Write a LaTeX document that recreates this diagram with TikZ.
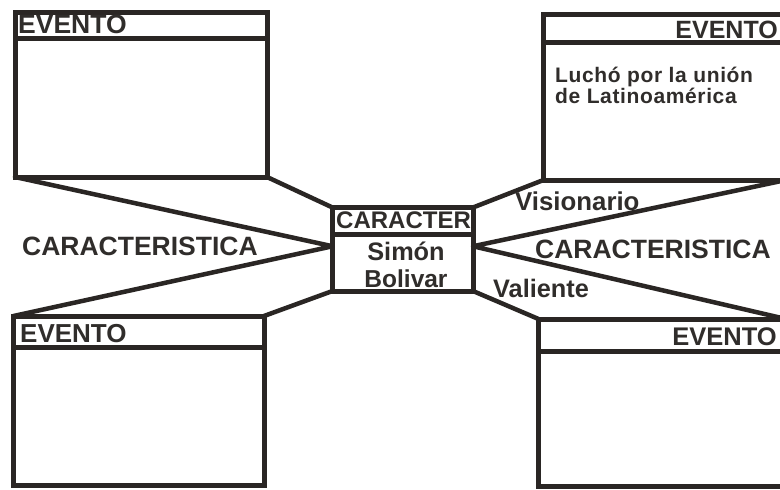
\documentclass[tikz,border=0pt]{standalone}
\usepackage{fontspec}
\setmainfont{Liberation Sans}
\usetikzlibrary{calc}
\definecolor{ink}{RGB}{42,38,36}
\definecolor{txt}{RGB}{48,45,43}
\begin{document}
\begin{tikzpicture}[x=1pt,y=-1pt,
  evbox/.style={draw=ink, line width=5pt, rectangle, outer sep=0pt, inner sep=0pt, anchor=north west},
  hdr/.style={draw=ink, line width=5pt},
  conn/.style={draw=ink, line width=4.5pt, line cap=round, line join=round},
  lbl/.style={text=txt, inner sep=0pt, font=\bfseries\fontsize{#1}{#1}\selectfont},
  lbl/.default=25,
  sp/.style={font=\bfseries\fontsize{21}{21}\selectfont\addfontfeatures{LetterSpace=3}}]
\useasboundingbox (0,0) rectangle (780,490);
\fill[white] (0,0) rectangle (780,490);
% boxes
\node[evbox, minimum width=252pt, minimum height=165pt] (tl) at (15,12) {};
\node[evbox, minimum width=242.5pt, minimum height=166pt] (tr) at (543.5,14) {};
\node[evbox, minimum width=140.5pt, minimum height=83.5pt] (c) at (332.5,207.5) {};
\node[evbox, minimum width=250.5pt, minimum height=169pt] (bl) at (13.5,316) {};
\node[evbox, minimum width=247.5pt, minimum height=167pt] (br) at (538.5,319) {};
% header lines
\draw[hdr] ($(tl.north west)+(0,-26pt)$) -- ($(tl.north east)+(0,-26pt)$);
\draw[hdr] ($(tr.north west)+(0,-28pt)$) -- ($(tr.north east)+(0,-28pt)$);
\draw[hdr] ($(c.north west)+(0,-26.5pt)$) -- ($(c.north east)+(0,-26.5pt)$);
\draw[hdr] ($(bl.north west)+(0,-31.5pt)$) -- ($(bl.north east)+(0,-31.5pt)$);
\draw[hdr] ($(br.north west)+(0,-32pt)$) -- ($(br.north east)+(0,-32pt)$);
% convergence points
\coordinate (cl) at ($(c.west)+(0,3pt)$);
\coordinate (cr) at ($(c.east)+(0,3pt)$);
% connectors
\draw[conn] (tl.south west) -- (cl) -- (bl.north west);
\draw[conn] (tl.south east) -- (c.north west);
\draw[conn] (bl.north east) -- (c.south west);
\draw[conn] (tr.south east) -- (cr) -- (br.north east);
\draw[conn] (tr.south west) -- (c.north east);
\draw[conn] (br.north west) -- (c.south east);
% texts
\node[lbl=26.5, anchor=base west] (e1) at (18,33) {EVENTO};
\node[lbl=25, anchor=base east] (e2) at (778,38) {EVENTO};
\node[lbl=26, anchor=base west] (e3) at (20,342) {EVENTO};
\node[lbl=25.5, anchor=base east] (e4) at (777,345) {EVENTO};
\node[lbl=26.5, anchor=base west] (k1) at (22,255) {CARACTERISTICA};
\node[lbl=26.5, anchor=base west] (k2) at (535,258) {CARACTERISTICA};
\node[lbl=25.8, anchor=base west] (v1) at (515,210) {Visionario};
\node[lbl=25.3, anchor=base west] (v2) at (493,297) {Valiente};
\node[lbl=24, anchor=base west] (ct) at (336,228) {CARACTER};
\node[lbl=25.3, anchor=base] (s1) at (406,260) {Simón};
\node[lbl=24.5, anchor=base] (s2) at (406,287) {Bolivar};
\node[lbl, sp, anchor=base west] (lu1) at (555,82.5) {Luchó por la unión};
\node[lbl, sp, anchor=base west] (lu2) at (555,103) {de Latinoamérica};
\end{tikzpicture}
\end{document}
